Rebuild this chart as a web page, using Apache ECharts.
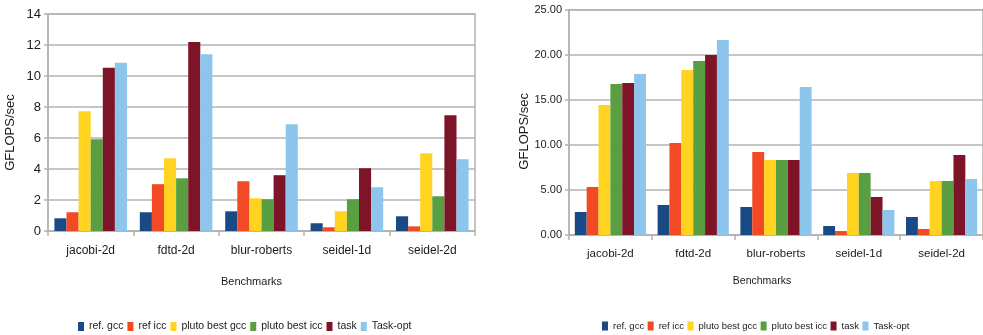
<!DOCTYPE html>
<html>
<head>
<meta charset="utf-8">
<script src="https://cdn.jsdelivr.net/npm/echarts@6/dist/echarts.min.js"></script>
<style>
  html, body { margin: 0; padding: 0; background: #fff; }
  #chart { width: 983px; height: 335px; }
</style>
</head>
<body>
<div id="chart"></div>
<script>
// Benchmarks and compiler / runtime variants
const categories = ['jacobi-2d', 'fdtd-2d', 'blur-roberts', 'seidel-1d', 'seidel-2d'];
const variants = ['ref. gcc', 'ref icc', 'pluto best gcc', 'pluto best icc', 'task', 'Task-opt'];
const colors = ['#1a4a85', '#f24a25', '#ffd320', '#5a9e42', '#7e1428', '#8ec5ec'];

// Left panel: GFLOPS/sec per variant (one array per variant, in category order)
const leftRefGcc      = [0.82, 1.21, 1.27, 0.50, 0.95];
const leftRefIcc      = [1.21, 3.02, 3.21, 0.24, 0.30];
const leftPlutoGcc    = [7.73, 4.70, 2.11, 1.27, 5.02];
const leftPlutoIcc    = [5.92, 3.40, 2.05, 2.05, 2.24];
const leftTask        = [10.53, 12.19, 3.60, 4.05, 7.47];
const leftTaskOpt     = [10.85, 11.41, 6.89, 2.82, 4.63];

// Right panel
const rightRefGcc     = [2.55, 3.33, 3.11, 1.00, 2.00];
const rightRefIcc     = [5.33, 10.21, 9.21, 0.44, 0.67];
const rightPlutoGcc   = [14.42, 18.31, 8.32, 6.88, 5.99];
const rightPlutoIcc   = [16.75, 19.31, 8.32, 6.88, 5.99];
const rightTask       = [16.86, 19.97, 8.32, 4.22, 8.88];
const rightTaskOpt    = [17.86, 21.64, 16.42, 2.77, 6.21];

const leftTicks = { min: 0, max: 14, interval: 2 };
const rightTicks = { min: 0, max: 25, interval: 5 };

const leftData = [leftRefGcc, leftRefIcc, leftPlutoGcc, leftPlutoIcc, leftTask, leftTaskOpt];
const rightData = [rightRefGcc, rightRefIcc, rightPlutoGcc, rightPlutoIcc, rightTask, rightTaskOpt];

const font = '"Liberation Sans", Arial, sans-serif';
const textColor = '#1a1a1a';
const lineColor = '#b3b3b3';

function xAxis(gridIndex, fontSize, labelMargin, nameSize, nameGap, namePadRight) {
  return {
    type: 'category',
    gridIndex: gridIndex,
    data: categories,
    boundaryGap: true,
    axisLine: { lineStyle: { color: lineColor, width: 1.5 } },
    axisTick: { show: true, length: 5, lineStyle: { color: lineColor, width: 1.5 } },
    axisLabel: { color: textColor, fontFamily: font, fontSize: fontSize, margin: labelMargin, interval: 0 },
    name: 'Benchmarks',
    nameLocation: 'middle',
    nameGap: nameGap,
    nameTextStyle: { color: textColor, fontFamily: font, fontSize: nameSize, padding: [0, namePadRight, 0, 0] }
  };
}

function yAxis(gridIndex, ticks, fontSize, decimals, nameGap, namePadRight) {
  return {
    type: 'value',
    gridIndex: gridIndex,
    min: ticks.min,
    max: ticks.max,
    interval: ticks.interval,
    axisLine: { show: true, lineStyle: { color: lineColor, width: 1.5 } },
    axisTick: { show: true, length: 4, lineStyle: { color: lineColor, width: 1.5 } },
    splitLine: { show: true, lineStyle: { color: lineColor, width: 1.5 } },
    axisLabel: {
      color: textColor, fontFamily: font, fontSize: fontSize, margin: 7,
      formatter: v => v.toFixed(decimals)
    },
    name: 'GFLOPS/sec',
    nameLocation: 'middle',
    nameRotate: 90,
    nameGap: nameGap,
    nameTextStyle: { color: textColor, fontFamily: font, fontSize: 13, padding: [0, namePadRight, 0, 0] }
  };
}

const series = [];
variants.forEach((name, i) => {
  series.push({
    name: name, type: 'bar', xAxisIndex: 0, yAxisIndex: 0,
    data: leftData[i], barGap: '0%', barCategoryGap: '15%',
    itemStyle: { color: colors[i] }
  });
});
variants.forEach((name, i) => {
  series.push({
    name: name, type: 'bar', xAxisIndex: 1, yAxisIndex: 1,
    data: rightData[i], barGap: '0%', barCategoryGap: '14%',
    itemStyle: { color: colors[i] }
  });
});

const chart = echarts.init(document.getElementById('chart'), null, { renderer: 'canvas' });
chart.setOption({
  animation: false,
  backgroundColor: '#fff',
  grid: [
    { left: 48, top: 14, width: 427, height: 217, show: true, borderColor: lineColor, borderWidth: 1.5 },
    { left: 569, top: 9.7, width: 417, height: 225.3, show: true, borderColor: lineColor, borderWidth: 1.5 }
  ],
  xAxis: [xAxis(0, 12, 14, 11, 45, 20), xAxis(1, 11.5, 13, 10.5, 41, 28)],
  yAxis: [yAxis(0, leftTicks, 13, 0, 31, 20), yAxis(1, rightTicks, 11, 2, 38, 18)],
  legend: [
    {
      data: variants, left: 73, top: 316, icon: 'rect', itemWidth: 6, itemHeight: 9, itemGap: 4,
      textStyle: { color: textColor, fontFamily: font, fontSize: 10.5 }
    },
    {
      data: variants, left: 597, top: 316, icon: 'rect', itemWidth: 6, itemHeight: 9, itemGap: 3.5,
      textStyle: { color: textColor, fontFamily: font, fontSize: 9.5 }
    }
  ],
  series: series
});
</script>
</body>
</html>
